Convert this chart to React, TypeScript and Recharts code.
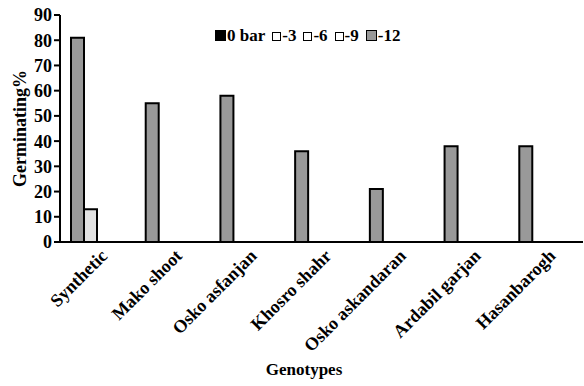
import React from 'react';
import { BarChart, Bar, XAxis, YAxis, Label } from 'recharts';

const genotypes = ['Synthetic', 'Mako shoot', 'Osko asfanjan', 'Khosro shahr', 'Osko askandaran', 'Ardabil garjan', 'Hasanbarogh'];
const seriesGray = [81, 55, 58, 36, 21, 38, 38];
const seriesLight = [13, 0, 0, 0, 0, 0, 0];
const seriesC = [0, 0, 0, 0, 0, 0, 0];
const seriesD = [0, 0, 0, 0, 0, 0, 0];
const yTicks = [0, 10, 20, 30, 40, 50, 60, 70, 80, 90];
const legendItems = [
  { label: '0 bar', color: '#000000', big: true },
  { label: '-3', color: '#ffffff', big: false },
  { label: '-6', color: '#ffffff', big: false },
  { label: '-9', color: '#ffffff', big: false },
  { label: '-12', color: '#999999', big: true },
];

const data = genotypes.map((g, i) => ({
  name: g,
  a: seriesGray[i],
  b: seriesLight[i],
  c: seriesC[i],
  d: seriesD[i],
}));

const FONT = '"Liberation Serif", "Times New Roman", serif';

const XTick = (props: any) => {
  const { x, y, payload } = props;
  const ax = x + 11;
  const ay = y + 7;
  return (
    <text
      x={ax}
      y={ay}
      textAnchor="end"
      transform={`rotate(-45, ${ax}, ${ay})`}
      fontFamily={FONT}
      fontWeight="bold"
      fontSize={18}
      fill="#000"
    >
      {payload.value}
    </text>
  );
};

export default function App() {
  return (
    <div style={{ position: 'absolute', left: 0, top: 0, width: 584, height: 386, background: '#fff' }}>
      <BarChart
        width={584}
        height={386}
        data={data}
        margin={{ top: 15, right: 1, left: 0, bottom: 0 }}
        barSize={13}
        barGap={0}
      >
        <XAxis
          dataKey="name"
          height={144}
          axisLine={{ stroke: '#000', strokeWidth: 2 }}
          tickLine={false}
          tickSize={6}
          tickMargin={2}
          interval={0}
          tick={<XTick />}
        >
          <Label
            content={() => (
              <text x={304} y={375} textAnchor="middle" fontFamily={FONT} fontWeight="bold" fontSize={17} fill="#000">
                Genotypes
              </text>
            )}
          />
        </XAxis>
        <YAxis
          width={60}
          domain={[0, 90]}
          ticks={yTicks}
          interval={0}
          axisLine={{ stroke: '#000', strokeWidth: 2 }}
          tickLine={{ stroke: '#000', strokeWidth: 2 }}
          tickSize={6}
          tickMargin={2}
          tick={{ fontFamily: FONT, fontWeight: 'bold', fontSize: 18, fill: '#000' }}
        >
          <Label
            content={(p: any) => {
              const vb = p.viewBox;
              const cx = 20;
              const cy = vb.y + vb.height / 2;
              return (
                <text
                  x={cx}
                  y={cy}
                  textAnchor="middle"
                  dominantBaseline="central"
                  transform={`rotate(-90, ${cx}, ${cy})`}
                  fontFamily={FONT}
                  fontWeight="bold"
                  fontSize={18}
                  fill="#000"
                >
                  Germinating%
                </text>
              );
            }}
          />
        </YAxis>
        <Bar dataKey="a" fill="#999999" stroke="#000" strokeWidth={2} isAnimationActive={false} />
        <Bar dataKey="b" fill="#e2e2e2" stroke="#000" strokeWidth={2} isAnimationActive={false} />
        <Bar dataKey="c" fill="#ffffff" stroke="#000" strokeWidth={2} isAnimationActive={false} />
        <Bar dataKey="d" fill="#ffffff" stroke="#000" strokeWidth={2} isAnimationActive={false} />
      </BarChart>
      <div
        style={{
          position: 'absolute',
          left: 215,
          top: 27,
          display: 'flex',
          alignItems: 'baseline',
          fontFamily: FONT,
          fontWeight: 'bold',
          fontSize: 17,
          lineHeight: '18px',
          color: '#000',
          whiteSpace: 'nowrap',
        }}
      >
        {legendItems.map((it, i) => (
          <span key={i} style={{ display: 'inline-flex', alignItems: 'baseline', marginRight: 7 }}>
            <span
              style={{
                display: 'inline-block',
                width: it.big ? 9 : 7,
                height: it.big ? 9 : 7,
                background: it.color,
                border: '1px solid #000',
                marginRight: 1,
              }}
            />
            <span>{it.label}</span>
          </span>
        ))}
      </div>
    </div>
  );
}
